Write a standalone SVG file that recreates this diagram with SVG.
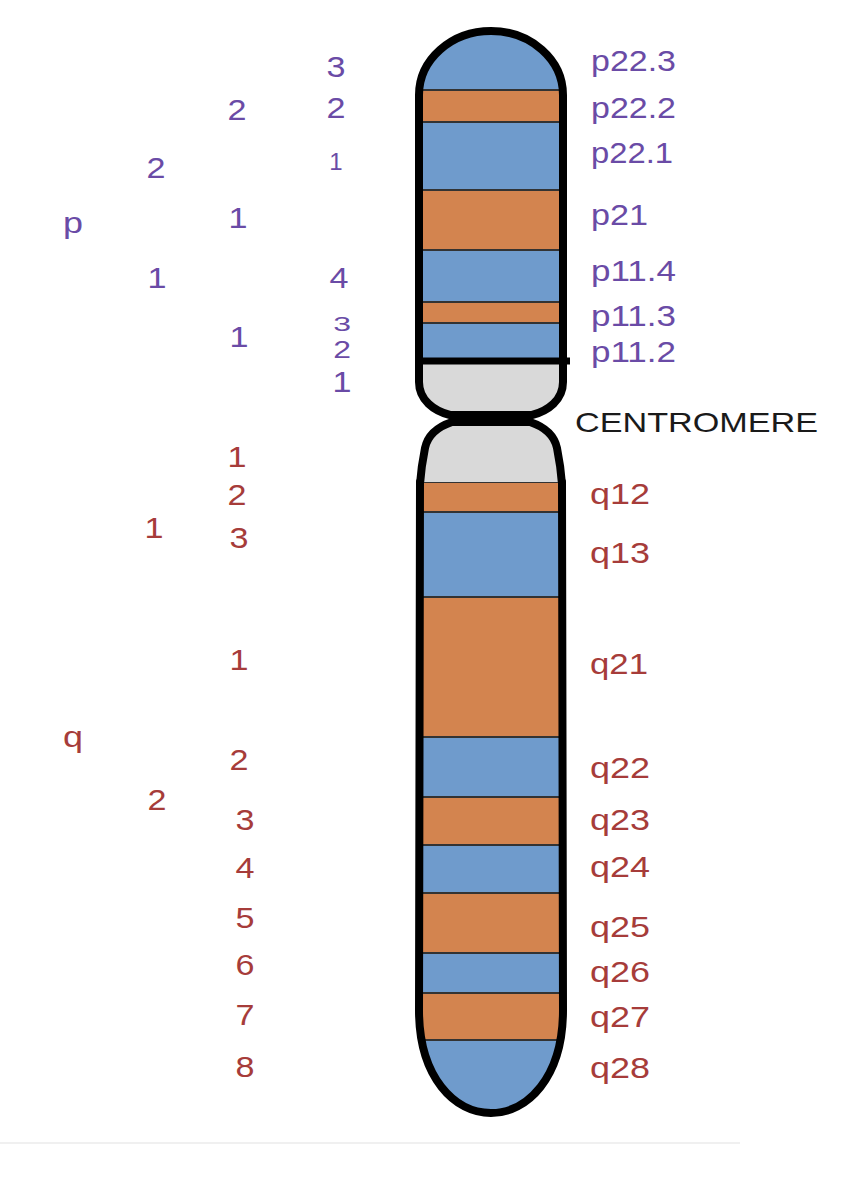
<svg xmlns="http://www.w3.org/2000/svg" width="854" height="1200" viewBox="0 0 854 1200">
<style>
.blue{fill:#6F9BCC;stroke:#333;stroke-width:2}
.orange{fill:#D3844F;stroke:#333;stroke-width:2}
.gray{fill:#D9D9D9}
.outline{fill:none;stroke:#000;stroke-width:8;stroke-linejoin:round;stroke-linecap:round}
text{font-family:"Liberation Sans",Arial,sans-serif;font-size:29px}
.p{fill:#6A4BA6}
.q{fill:#A63C3A}
.c{fill:#1a1a1a;font-size:28px}
.m{text-anchor:middle}
</style>
<defs>
<clipPath id="pclip"><path d="M419,362 L419,95 A72,64 0 0 1 563,95 L563,362 Z"/></clipPath>
<clipPath id="qclip"><path d="M419,482 L419,1010 C419,1078 455,1113 491,1113 C527,1113 563,1078 563,1010 L563,482 Z"/></clipPath>
</defs>
<rect x="0" y="0" width="854" height="1200" fill="#fff"/>
<line x1="0" y1="1143" x2="740" y2="1143" stroke="#f0f0f0" stroke-width="2"/>

<g id="p-arm">
<g clip-path="url(#pclip)">
<rect class="blue" x="415" y="20" width="152" height="70"/>
<rect class="orange" x="415" y="90" width="152" height="32"/>
<rect class="blue" x="415" y="122" width="152" height="68"/>
<rect class="orange" x="415" y="190" width="152" height="60"/>
<rect class="blue" x="415" y="250" width="152" height="52"/>
<rect class="orange" x="415" y="302" width="152" height="21"/>
<rect class="blue" x="415" y="323" width="152" height="39"/>
</g>
<path class="outline" d="M419,362 L419,95 A72,64 0 0 1 563,95 L563,362"/>
</g>

<g id="centromere">
<path class="gray" d="M419,362 L419,382 C419,400 434,411 450,415 L532,415 C548,411 563,400 563,382 L563,362 Z"/>
<path class="outline" d="M419,362 L419,382 C419,400 434,411 450,415 L532,415 C548,411 563,400 563,382 L563,362"/>
<path class="gray" d="M420,484 C421,470 423,458 425,448 C428,434 440,426 452,422 L530,422 C542,426 554,434 557,448 C559,458 561,470 562,484 Z"/>
<path class="outline" d="M420,484 C421,470 423,458 425,448 C428,434 440,426 452,422 L530,422 C542,426 554,434 557,448 C559,458 561,470 562,484"/>
<line x1="416" y1="361" x2="570" y2="361" stroke="#000" stroke-width="7"/>
</g>

<g id="q-arm">
<g clip-path="url(#qclip)">
<rect class="orange" x="415" y="482" width="152" height="30"/>
<rect class="blue" x="415" y="512" width="152" height="85"/>
<rect class="orange" x="415" y="597" width="152" height="140"/>
<rect class="blue" x="415" y="737" width="152" height="60"/>
<rect class="orange" x="415" y="797" width="152" height="48"/>
<rect class="blue" x="415" y="845" width="152" height="48"/>
<rect class="orange" x="415" y="893" width="152" height="60"/>
<rect class="blue" x="415" y="953" width="152" height="40"/>
<rect class="orange" x="415" y="993" width="152" height="47"/>
<rect class="blue" x="415" y="1040" width="152" height="80"/>
</g>
<path class="outline" d="M420,482 L419,1010 C419,1078 455,1113 491,1113 C527,1113 563,1078 563,1010 L562,482"/>
</g>

<g id="band-labels-p">
<text class="p" x="591" y="71" textLength="85" lengthAdjust="spacingAndGlyphs">p22.3</text>
<text class="p" x="591" y="118" textLength="85" lengthAdjust="spacingAndGlyphs">p22.2</text>
<text class="p" x="591" y="163" textLength="82" lengthAdjust="spacingAndGlyphs">p22.1</text>
<text class="p" x="591" y="225" textLength="57" lengthAdjust="spacingAndGlyphs">p21</text>
<text class="p" x="591" y="281" textLength="85" lengthAdjust="spacingAndGlyphs">p11.4</text>
<text class="p" x="591" y="326" textLength="85" lengthAdjust="spacingAndGlyphs">p11.3</text>
<text class="p" x="591" y="362" textLength="85" lengthAdjust="spacingAndGlyphs">p11.2</text>
</g>

<g id="centromere-label">
<text class="c" x="575" y="432" textLength="243" lengthAdjust="spacingAndGlyphs">CENTROMERE</text>
</g>

<g id="band-labels-q">
<text class="q" x="590" y="504" textLength="60" lengthAdjust="spacingAndGlyphs">q12</text>
<text class="q" x="590" y="563" textLength="60" lengthAdjust="spacingAndGlyphs">q13</text>
<text class="q" x="590" y="674" textLength="58" lengthAdjust="spacingAndGlyphs">q21</text>
<text class="q" x="590" y="778" textLength="60" lengthAdjust="spacingAndGlyphs">q22</text>
<text class="q" x="590" y="830" textLength="60" lengthAdjust="spacingAndGlyphs">q23</text>
<text class="q" x="590" y="877" textLength="60" lengthAdjust="spacingAndGlyphs">q24</text>
<text class="q" x="590" y="937" textLength="60" lengthAdjust="spacingAndGlyphs">q25</text>
<text class="q" x="590" y="982" textLength="60" lengthAdjust="spacingAndGlyphs">q26</text>
<text class="q" x="590" y="1027" textLength="60" lengthAdjust="spacingAndGlyphs">q27</text>
<text class="q" x="590" y="1078" textLength="60" lengthAdjust="spacingAndGlyphs">q28</text>
</g>

<g id="hierarchy-p">
<text class="p" x="63" y="233" textLength="20" lengthAdjust="spacingAndGlyphs">p</text>
<text class="p m" x="156" y="178" textLength="19" lengthAdjust="spacingAndGlyphs">2</text>
<text class="p m" x="157" y="288" textLength="19" lengthAdjust="spacingAndGlyphs">1</text>
<text class="p m" x="237" y="120" textLength="19" lengthAdjust="spacingAndGlyphs">2</text>
<text class="p m" x="238" y="228" textLength="19" lengthAdjust="spacingAndGlyphs">1</text>
<text class="p m" x="239" y="347" textLength="19" lengthAdjust="spacingAndGlyphs">1</text>
<text class="p m" x="336" y="77" textLength="19" lengthAdjust="spacingAndGlyphs">3</text>
<text class="p m" x="336" y="118" textLength="19" lengthAdjust="spacingAndGlyphs">2</text>
<text class="p m" x="336" y="170" style="font-size:24px">1</text>
<text class="p m" x="339" y="288" textLength="19" lengthAdjust="spacingAndGlyphs">4</text>
<text class="p m" transform="translate(342,331) scale(1.1,0.7)">3</text>
<text class="p m" transform="translate(342,358) scale(1.1,0.85)">2</text>
<text class="p m" x="342" y="392" textLength="19" lengthAdjust="spacingAndGlyphs">1</text>
</g>

<g id="hierarchy-q">
<text class="q" x="63" y="747" textLength="20" lengthAdjust="spacingAndGlyphs">q</text>
<text class="q m" x="154" y="538" textLength="19" lengthAdjust="spacingAndGlyphs">1</text>
<text class="q m" x="157" y="810" textLength="19" lengthAdjust="spacingAndGlyphs">2</text>
<text class="q m" x="237" y="467" textLength="19" lengthAdjust="spacingAndGlyphs">1</text>
<text class="q m" x="237" y="505" textLength="19" lengthAdjust="spacingAndGlyphs">2</text>
<text class="q m" x="239" y="548" textLength="19" lengthAdjust="spacingAndGlyphs">3</text>
<text class="q m" x="239" y="670" textLength="19" lengthAdjust="spacingAndGlyphs">1</text>
<text class="q m" x="239" y="770" textLength="19" lengthAdjust="spacingAndGlyphs">2</text>
<text class="q m" x="245" y="830" textLength="19" lengthAdjust="spacingAndGlyphs">3</text>
<text class="q m" x="245" y="878" textLength="19" lengthAdjust="spacingAndGlyphs">4</text>
<text class="q m" x="245" y="928" textLength="19" lengthAdjust="spacingAndGlyphs">5</text>
<text class="q m" x="245" y="975" textLength="19" lengthAdjust="spacingAndGlyphs">6</text>
<text class="q m" x="245" y="1025" textLength="19" lengthAdjust="spacingAndGlyphs">7</text>
<text class="q m" x="245" y="1077" textLength="19" lengthAdjust="spacingAndGlyphs">8</text>
</g>
</svg>
